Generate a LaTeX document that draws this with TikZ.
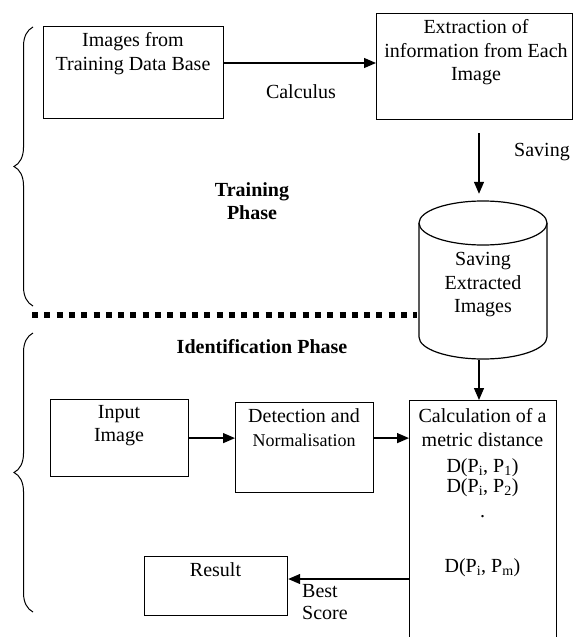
\documentclass[tikz,border=0pt]{standalone}
\usepackage{fontspec}
\setmainfont{Liberation Serif}
\usetikzlibrary{arrows.meta,decorations.pathreplacing,calc}
\begin{document}
\begin{tikzpicture}[x=1pt,y=-1pt,
  box/.style={draw, line width=1.2pt, inner sep=0},
  lbl/.style={font=\fontsize{20}{23.5}\selectfont, align=center, inner sep=0},
  blbl/.style={font=\fontsize{20}{23.5}\selectfont\bfseries, align=center, inner sep=0},
  arr/.style={line width=1.3pt, -{Triangle[length=12pt,width=10pt]}},
  bracestyle/.style={decorate, decoration={brace, amplitude=19pt}, line width=1pt},
]
\useasboundingbox (0,0) rectangle (573,637);

% braces
\draw[bracestyle] (33,306) -- (33,27);
\draw[bracestyle] (33,612) -- (33,333);

% dotted separator
\coordinate (dl) at (32,315);
\coordinate (dr) at (417,315);
\draw[line width=6pt, dash pattern=on 6pt off 6.3pt] (dl) -- (dr);

% boxes
\node[box, minimum width=180, minimum height=92, anchor=north west] (db) at (43,26) {};
\node[box, minimum width=195.5, minimum height=106, anchor=north west] (ext) at (376,13) {};
\node[box, minimum width=138, minimum height=77, anchor=north west] (inp) at (50,399) {};
\node[box, minimum width=138, minimum height=90, anchor=north west] (det) at (235,402) {};
\node[box, minimum width=147, minimum height=260, anchor=north west] (calc) at (409,400) {};
\node[box, minimum width=143, minimum height=59, anchor=north west] (res) at (144,556) {};

% cylinder
\draw[line width=1.2pt, fill=white] (419,223) -- (419,337)
  arc[start angle=180, end angle=0, x radius=64, y radius=22] -- (547,223);
\draw[line width=1.2pt, fill=white] (483,223) ellipse[x radius=64, y radius=22];
\node[minimum width=128, minimum height=160, inner sep=0] (cyl) at (483,280) {};

% texts
\node[lbl] (t1) at (133,53.5) {Images from\\Training Data Base};
\node[lbl] (t2) at (476,52.5) {Extraction of\\information from Each\\Image};
\node[lbl] (calcu) at (301,92) {Calculus};
\node[lbl] (savl) at (542,152) {Saving};
\node[blbl] (tp) at (252,201) {Training\\Phase};
\node[lbl] (cylt) at (483,285) {Saving\\Extracted\\Images};
\node[blbl] (ip) at (262,347) {Identification Phase};
\node[lbl] (inpt) at (119,425.5) {Input\\Image};
\node[lbl] (dett) at (304,427.5) {Detection and\\{\fontsize{18}{23.5}\selectfont Normalisation}};
\node[lbl] (c1) at (482.5,427.5) {Calculation of a\\metric distance};
\node[lbl] (c2) at (482.5,468) {D(P\textsubscript{i}, P\textsubscript{1})};
\node[lbl] (c3) at (482.5,488) {D(P\textsubscript{i}, P\textsubscript{2})};
\node[lbl] (c4) at (482.5,517) {.};
\node[lbl] (c5) at (482.5,568) {D(P\textsubscript{i}, P\textsubscript{m})};
\node[lbl] (rest) at (215.5,570) {Result};
\node[lbl, align=left, anchor=west, font=\fontsize{20}{22}\selectfont] (best) at (302,602) {Best\\Score};

% connectors
\draw[arr] (db.east |- 0,63) -- (ext.west |- 0,63);
\coordinate (s1) at (479,133);
\draw[arr] (s1) -- ($(s1 |- cyl.north)+(0,-6)$);
\coordinate (s2) at (479,360);
\draw[arr] (s2) -- (s2 |- calc.north);
\draw[arr] (inp.east) -- (inp.east -| det.west);
\draw[arr] (det.east |- inp.east) -- (inp.east -| calc.west);
\draw[arr] (calc.west |- 0,579) -- (res.east |- 0,579);
\end{tikzpicture}
\end{document}
